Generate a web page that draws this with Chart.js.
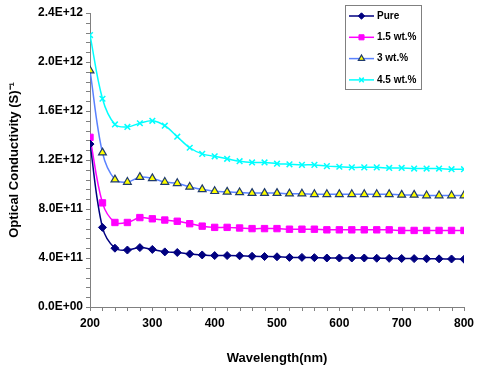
<!DOCTYPE html>
<html>
<head>
<meta charset="utf-8">
<script src="https://cdn.jsdelivr.net/npm/chart.js@4.4.1/dist/chart.umd.min.js"></script>
<style>
  html, body { margin: 0; padding: 0; background: #fff; }
  #wrap { width: 480px; height: 372px; }
</style>
</head>
<body>
<div id="wrap"><canvas id="optChart" width="480" height="372"></canvas></div>
<script>
// wavelength in nm, conductivity in units of 1E+12 (S)^-1
const wavelengths = [200, 220, 240, 260, 280, 300, 320, 340, 360, 380, 400, 420, 440, 460, 480, 500,
                     520, 540, 560, 580, 600, 620, 640, 660, 680, 700, 720, 740, 760, 780, 800];
const pure = [1.33, 0.65, 0.48, 0.465, 0.485, 0.47, 0.45, 0.445, 0.433, 0.425, 0.42, 0.42, 0.418, 0.414, 0.412, 0.41,
              0.405, 0.405, 0.403, 0.40, 0.40, 0.40, 0.40, 0.398, 0.397, 0.396, 0.395, 0.394, 0.393, 0.392, 0.39];
const wt15 = [1.385, 0.85, 0.69, 0.69, 0.73, 0.72, 0.71, 0.70, 0.68, 0.66, 0.65, 0.65, 0.645, 0.64, 0.64, 0.64,
              0.635, 0.635, 0.635, 0.63, 0.63, 0.63, 0.63, 0.63, 0.63, 0.625, 0.625, 0.625, 0.625, 0.625, 0.625];
const wt3 = [1.93, 1.26, 1.04, 1.02, 1.06, 1.05, 1.02, 1.01, 0.98, 0.96, 0.945, 0.94, 0.935, 0.93, 0.93, 0.93,
             0.925, 0.925, 0.92, 0.92, 0.92, 0.92, 0.92, 0.92, 0.92, 0.915, 0.915, 0.91, 0.91, 0.91, 0.91];
const wt45 = [2.22, 1.70, 1.49, 1.47, 1.50, 1.52, 1.48, 1.39, 1.30, 1.25, 1.23, 1.21, 1.19, 1.18, 1.18, 1.17,
              1.165, 1.16, 1.16, 1.15, 1.145, 1.14, 1.14, 1.14, 1.135, 1.135, 1.13, 1.13, 1.13, 1.125, 1.125];
const seriesLabels = ["Pure", "1.5 wt.%", "3 wt.%", "4.5 wt.%"];
const UNIT = 1e12;

const FONT = "'Liberation Sans', Arial, sans-serif";

function pts(arr) {
    return wavelengths.map((w, i) => ({ x: w, y: arr[i] * UNIT }));
}

// Excel style labels: 2.4E+12, 0.0E+00
function sci(v) {
    if (v === 0) return "0.0E+00";
    const exp = Math.floor(Math.log10(Math.abs(v)) + 1e-9);
    const man = v / Math.pow(10, exp);
    return man.toFixed(1) + "E+" + String(exp).padStart(2, "0");
}

// small outside ticks every 20 nm and every 0.08E+12
const minorTicks = {
    id: "minorTicks",
    afterDraw(chart) {
        const { ctx, chartArea: a, scales: { x, y } } = chart;
        ctx.save();
        ctx.strokeStyle = "#808080";
        ctx.lineWidth = 1;
        ctx.beginPath();
        for (let w = 200; w <= 800; w += 20) {
            const px = Math.round(x.getPixelForValue(w)) + 0.5;
            ctx.moveTo(px, a.bottom);
            ctx.lineTo(px, a.bottom + 4);
        }
        for (let k = 0; k <= 30; k++) {
            const py = Math.round(y.getPixelForValue(k * 0.08 * UNIT)) + 0.5;
            ctx.moveTo(a.left - 4, py);
            ctx.lineTo(a.left, py);
        }
        ctx.stroke();
        ctx.restore();
    }
};

// boxed legend inside the plot, top right
const boxLegend = {
    id: "boxLegend",
    afterDraw(chart) {
        const { ctx } = chart;
        const bx = 345, by = 5, bw = 76, bh = 84;
        ctx.save();
        ctx.fillStyle = "#fff";
        ctx.fillRect(bx, by, bw, bh);
        ctx.strokeStyle = "#808080";
        ctx.lineWidth = 1;
        ctx.strokeRect(bx + 0.5, by + 0.5, bw, bh);
        chart.data.datasets.forEach((ds, i) => {
            const cy = by + 11 + i * 21.3;
            ctx.strokeStyle = ds.borderColor;
            ctx.lineWidth = 1.5;
            ctx.beginPath();
            ctx.moveTo(bx + 4, cy);
            ctx.lineTo(bx + 29, cy);
            ctx.stroke();

            ctx.fillStyle = ds.pointBackgroundColor;
            ctx.strokeStyle = ds.pointBorderColor;
            ctx.lineWidth = ds.pointBorderWidth;
            Chart.helpers.drawPoint(ctx, {
                pointStyle: ds.pointStyle,
                radius: ds.pointRadius * 0.8,
                borderWidth: ds.pointBorderWidth
            }, bx + 16.5, cy);

            ctx.fillStyle = "#000";
            ctx.font = "bold 10px " + FONT;
            ctx.textBaseline = "middle";
            ctx.fillText(ds.label, bx + 32, cy);
        });
        ctx.restore();
    }
};

const datasets = [
    { label: seriesLabels[0], data: pts(pure), borderColor: "#000080", pointBackgroundColor: "#000080",
      pointBorderColor: "#000080", pointStyle: "rectRot", pointRadius: 4, pointBorderWidth: 1 },
    { label: seriesLabels[1], data: pts(wt15), borderColor: "#ff00ff", pointBackgroundColor: "#ff00ff",
      pointBorderColor: "#ff00ff", pointStyle: "rect", pointRadius: 4.5, pointBorderWidth: 1 },
    { label: seriesLabels[2], data: pts(wt3), borderColor: "#5a82ff", pointBackgroundColor: "#ffff00",
      pointBorderColor: "#1f3a6e", pointStyle: "triangle", pointRadius: 4.5, pointBorderWidth: 1.2 },
    { label: seriesLabels[3], data: pts(wt45), borderColor: "#00ffff", pointBackgroundColor: "#00ffff",
      pointBorderColor: "#00ffff", pointStyle: "crossRot", pointRadius: 4, pointBorderWidth: 1.5 }
];
datasets.forEach(ds => {
    ds.borderWidth = 1.5;
    ds.tension = 0.35;
    ds.fill = false;
});

new Chart(document.getElementById("optChart"), {
    type: "line",
    data: { datasets },
    options: {
        responsive: false,
        animation: false,
        events: [],
        layout: { padding: { top: 13, right: 16, left: 0, bottom: 0 } },
        plugins: { legend: { display: false }, tooltip: { enabled: false } },
        scales: {
            x: {
                type: "linear",
                min: 200, max: 800,
                afterFit(s) { s.height = 65; },
                grid: { display: false, drawTicks: true, tickLength: 4 },
                border: { display: true, color: "#808080", width: 1 },
                ticks: { stepSize: 100, padding: 5, color: "#000",
                         font: { family: FONT, size: 12, weight: "bold" } },
                title: { display: true, text: "Wavelength(nm)", color: "#000",
                         padding: { top: 0, bottom: 6 },
                         font: { family: FONT, size: 13, weight: "bold" } }
            },
            y: {
                min: 0, max: 2.4 * UNIT,
                afterFit(s) { s.width = 90; },
                grid: { display: false, drawTicks: true, tickLength: 4 },
                border: { display: true, color: "#808080", width: 1 },
                ticks: { stepSize: 0.4 * UNIT, padding: 3, color: "#000", callback: v => sci(v),
                         font: { family: FONT, size: 12, weight: "bold" } },
                title: { display: true, text: "Optical Conductivity (S)\u207B\u00B9", color: "#000",
                         padding: { top: 7, bottom: 0 },
                         font: { family: FONT, size: 13, weight: "bold" } }
            }
        }
    },
    plugins: [minorTicks, boxLegend]
});
</script>
</body>
</html>
